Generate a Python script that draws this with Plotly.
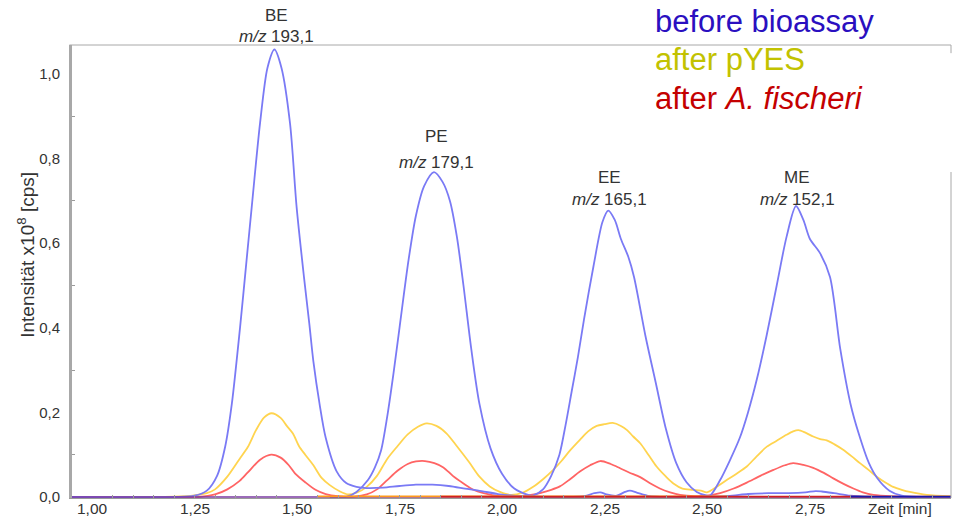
import plotly.graph_objects as go

# ---- Chromatogram readings (time in min, intensity in 1e8 cps) ----

# before bioassay: one XIC per compound
be_t = [0.95, 1.20, 1.25, 1.28, 1.305, 1.325, 1.341, 1.361, 1.377, 1.39,
        1.41, 1.428, 1.445, 1.462, 1.483, 1.499, 1.517, 1.53, 1.54, 1.555,
        1.57, 1.597, 1.62, 1.645, 1.67, 1.71, 1.75, 1.79, 1.83, 1.87,
        1.91, 1.95, 1.99, 2.04, 2.10]
be_v = [0, 0, 0.003, 0.015, 0.05, 0.12, 0.22, 0.40, 0.56, 0.69,
        0.885, 1.015, 1.058, 1.015, 0.883, 0.686, 0.52, 0.41, 0.32, 0.22,
        0.14, 0.06, 0.033, 0.024, 0.021, 0.022, 0.026, 0.029, 0.029, 0.026,
        0.02, 0.014, 0.007, 0.002, 0]

pe_t = [1.58, 1.62, 1.645, 1.673, 1.69, 1.705, 1.72, 1.735, 1.75, 1.772,
        1.79, 1.81, 1.834, 1.855, 1.873, 1.89, 1.906, 1.925, 1.945, 1.972,
        2.0, 2.03, 2.068, 2.10]
pe_v = [0, 0, 0.012, 0.04, 0.07, 0.11, 0.19, 0.29, 0.40, 0.56,
        0.665, 0.735, 0.768, 0.745, 0.70, 0.615, 0.50, 0.35, 0.22, 0.115,
        0.055, 0.02, 0.004, 0]

ee_t = [2.04, 2.075, 2.10, 2.12, 2.14, 2.155, 2.17, 2.185, 2.20, 2.223,
        2.245, 2.259, 2.275, 2.29, 2.308, 2.322, 2.35, 2.375, 2.40, 2.425,
        2.45, 2.475, 2.50, 2.53]
ee_v = [0, 0.003, 0.018, 0.05, 0.10, 0.17, 0.25, 0.33, 0.42, 0.545,
        0.65, 0.677, 0.655, 0.61, 0.568, 0.52, 0.38, 0.27, 0.16, 0.08,
        0.035, 0.012, 0.003, 0]

me_t = [2.48, 2.507, 2.532, 2.555, 2.58, 2.60, 2.622, 2.645, 2.67, 2.694,
        2.717, 2.735, 2.751, 2.776, 2.80, 2.825, 2.85, 2.87, 2.895, 2.915,
        2.945, 2.975, 3.01]
me_v = [0, 0.003, 0.04, 0.085, 0.14, 0.20, 0.28, 0.38, 0.50, 0.615,
        0.688, 0.655, 0.61, 0.576, 0.52, 0.35, 0.22, 0.15, 0.08, 0.045,
        0.015, 0.003, 0]

minor_t = [2.10, 2.20, 2.225, 2.24, 2.255, 2.28, 2.30, 2.312, 2.33, 2.36,
           2.45, 2.55, 2.60, 2.65, 2.70, 2.74, 2.765, 2.78, 2.81, 2.85,
           2.90]
minor_v = [0, 0.002, 0.009, 0.011, 0.006, 0.003, 0.012, 0.015, 0.01, 0.002,
           0, 0.002, 0.007, 0.009, 0.009, 0.011, 0.014, 0.013, 0.009, 0.003,
           0]

# after pYES
pyes_t = [0.95, 1.20, 1.25, 1.28, 1.30, 1.33, 1.36, 1.38, 1.40, 1.42,
          1.438, 1.46, 1.475, 1.49, 1.505, 1.52, 1.54, 1.56, 1.58, 1.605,
          1.625, 1.645, 1.67, 1.695, 1.72, 1.745, 1.77, 1.795, 1.816, 1.84,
          1.865, 1.89, 1.92, 1.945, 1.97, 1.995, 2.02, 2.05, 2.076, 2.10,
          2.125, 2.145, 2.166, 2.19, 2.21, 2.231, 2.25, 2.27, 2.29, 2.305,
          2.32, 2.337, 2.357, 2.377, 2.40, 2.418, 2.44, 2.465, 2.485, 2.50,
          2.525, 2.548, 2.572, 2.597, 2.62, 2.646, 2.67, 2.694, 2.71, 2.723,
          2.74, 2.759, 2.776, 2.792, 2.81, 2.833, 2.853, 2.873, 2.894, 2.914,
          2.934, 2.954, 2.975, 2.995, 3.036, 3.095]
pyes_v = [0, 0.001, 0.004, 0.009, 0.018, 0.048, 0.09, 0.118, 0.158, 0.188,
          0.198, 0.187, 0.168, 0.15, 0.12, 0.10, 0.075, 0.045, 0.028, 0.013,
          0.006, 0.01, 0.024, 0.05, 0.09, 0.12, 0.148, 0.166, 0.174, 0.168,
          0.15, 0.12, 0.082, 0.048, 0.025, 0.012, 0.005, 0.01, 0.024, 0.042,
          0.064, 0.085, 0.11, 0.135, 0.155, 0.168, 0.172, 0.175, 0.168, 0.158,
          0.143, 0.127, 0.10, 0.072, 0.048, 0.032, 0.02, 0.017, 0.015, 0.011,
          0.025, 0.04, 0.055, 0.072, 0.095, 0.119, 0.133, 0.147, 0.155, 0.158,
          0.152, 0.143, 0.137, 0.134, 0.125, 0.111, 0.096, 0.08, 0.064, 0.048,
          0.035, 0.024, 0.017, 0.012, 0.005, 0.002]

# after A. fischeri
fisch_t = [0.95, 1.26, 1.30, 1.33, 1.36, 1.38, 1.41, 1.437, 1.46, 1.48,
           1.495, 1.52, 1.545, 1.57, 1.60, 1.64, 1.67, 1.695, 1.72, 1.745,
           1.77, 1.79, 1.812, 1.835, 1.857, 1.88, 1.906, 1.93, 1.955, 1.995,
           2.04, 2.07, 2.095, 2.12, 2.141, 2.166, 2.19, 2.215, 2.24, 2.265,
           2.288, 2.31, 2.337, 2.36, 2.385, 2.41, 2.434, 2.47, 2.50, 2.532,
           2.565, 2.597, 2.63, 2.662, 2.69, 2.71, 2.735, 2.759, 2.785, 2.808,
           2.833, 2.857, 2.88, 2.906, 2.95, 3.095]
fisch_v = [0, 0, 0.006, 0.018, 0.038, 0.058, 0.088, 0.10, 0.093, 0.075,
           0.056, 0.035, 0.017, 0.007, 0.002, 0.001, 0.006, 0.018, 0.04, 0.062,
           0.078, 0.084, 0.085, 0.08, 0.07, 0.05, 0.032, 0.017, 0.009, 0.002,
           0.002, 0.005, 0.01, 0.017, 0.025, 0.042, 0.06, 0.075, 0.085, 0.078,
           0.068, 0.058, 0.047, 0.033, 0.02, 0.011, 0.005, 0.002, 0.003, 0.009,
           0.02, 0.034, 0.05, 0.064, 0.075, 0.08, 0.076, 0.069, 0.057, 0.044,
           0.031, 0.02, 0.011, 0.005, 0.002, 0.001]

# baseline traces of the remaining channels
base_segments = [
    ("#7a3aa0", [0.95, 3.095], [0.0, 0.0]),
    ("#ff9a1a", [1.55, 2.55], [0.0015, 0.0015]),
    ("#d02020", [1.85, 2.90], [0.0008, 0.0008]),
    ("#1a1aa8", [2.85, 3.095], [0.0008, 0.0008]),
]

# compound labels: name, m/z, time position, paper heights of the two lines
peak_labels = [("BE", "193,1", 1.451, 1.0662, 1.0177),
               ("PE", "179,1", 1.839, 0.7970, 0.7417),
               ("EE", "165,1", 2.263, 0.7086, 0.6600),
               ("ME", "152,1", 2.720, 0.7086, 0.6600)]

x_tickvals = [1.00, 1.25, 1.50, 1.75, 2.00, 2.25, 2.50, 2.75]
x_ticktext = ["1,00", "1,25", "1,50", "1,75", "2,00", "2,25", "2,50", "2,75"]
y_tickvals = [0.0, 0.2, 0.4, 0.6, 0.8, 1.0]
y_ticktext = ["0,0", "0,2", "0,4", "0,6", "0,8", "1,0"]

BLUE = "#7a7af5"
YELLOW = "#ffd44f"
RED = "#ff6464"
TEXT = "#333333"
FONT = "Liberation Sans, Arial, sans-serif"

fig = go.Figure()

def add_line(x, y, color, width=1.8, shape="spline"):
    fig.add_trace(go.Scatter(x=x, y=y, mode="lines", showlegend=False,
                             hoverinfo="skip",
                             line=dict(color=color, width=width, shape=shape,
                                       smoothing=0.8)))

add_line(pyes_t, pyes_v, YELLOW)
add_line(fisch_t, fisch_v, RED)
for tt, vv in [(be_t, be_v), (pe_t, pe_v), (ee_t, ee_v), (me_t, me_v),
               (minor_t, minor_v)]:
    add_line(tt, vv, BLUE)
for col, tt, vv in base_segments:
    add_line(tt, vv, col, width=1.6, shape="linear")

ann = []
for name, mz, xpos, y1, y2 in peak_labels:
    ann.append(dict(x=xpos, y=y1, xref="x", yref="paper", text=name,
                    yanchor="middle", showarrow=False,
                    font=dict(size=17, color=TEXT, family=FONT)))
    ann.append(dict(x=xpos, y=y2, xref="x", yref="paper",
                    text="<i>m/z</i> " + mz, yanchor="middle", showarrow=False,
                    font=dict(size=17, color=TEXT, family=FONT)))

# time axis labels sit tight under the axis line
for tv, tt in zip(x_tickvals, x_ticktext):
    ann.append(dict(x=tv, y=-0.0221, xref="x", yref="paper", text=tt,
                    xanchor="center", yanchor="middle", showarrow=False,
                    font=dict(size=15.5, color=TEXT, family=FONT)))

legend_items = [("before bioassay", "#2a0fc0", 1.0508),
                ("after pYES", "#c2c200", 0.9669),
                ("after <i>A. fischeri</i>", "#c40000", 0.8830)]
for txt, col, yp in legend_items:
    ann.append(dict(x=0.661, y=yp, xref="paper", yref="paper", text=txt,
                    xanchor="left", yanchor="middle", showarrow=False,
                    font=dict(size=31, color=col, family=FONT)))

ann.append(dict(x=-0.0523, y=0.537, xref="paper", yref="paper",
                text="Intensität x10<sup>8</sup> [cps]", textangle=-90,
                xanchor="center", yanchor="middle",
                showarrow=False, font=dict(size=19, color=TEXT, family=FONT)))
ann.append(dict(x=0.942, y=-0.0221, xref="paper", yref="paper",
                text="Zeit [min]", xanchor="center", yanchor="middle",
                showarrow=False, font=dict(size=15.5, color=TEXT, family=FONT)))

shapes = [
    dict(type="line", xref="paper", yref="paper", x0=-0.003, x1=1.0, y0=1.0, y1=1.0,
         line=dict(color="#a8a8a8", width=1)),
    dict(type="line", xref="paper", yref="paper", x0=1.0, x1=1.0, y0=0.982, y1=1.0,
         line=dict(color="#a8a8a8", width=1)),
    dict(type="line", xref="paper", yref="paper", x0=1.0, x1=1.0, y0=0.0, y1=0.7196,
         line=dict(color="#a8a8a8", width=1)),
]

fig.update_layout(
    width=961, height=517,
    margin=dict(l=72, r=10, t=45, b=19, autoexpand=False),
    paper_bgcolor="white", plot_bgcolor="white",
    annotations=ann, shapes=shapes,
    xaxis=dict(range=[0.9512, 3.0951], showticklabels=False,
               showgrid=False, zeroline=False, automargin=False,
               showline=True, linecolor="#9a9a9a", linewidth=1, ticks="",
               minor=dict(tickmode="linear", tick0=1.0, dtick=0.05, ticks="inside",
                          ticklen=3, tickcolor="#9a9a9a", showgrid=False)),
    yaxis=dict(range=[-0.0024, 1.0686], tickmode="array", tickvals=y_tickvals,
               ticktext=y_ticktext, showgrid=False, zeroline=False,
               automargin=False,
               showline=True, linecolor="#a8a8a8", linewidth=3, ticks="",
               ticklabelstandoff=6,
               tickfont=dict(size=15, color=TEXT, family=FONT),
               minor=dict(tickmode="linear", tick0=0.1, dtick=0.2, ticks="inside",
                          ticklen=3, tickcolor="#9a9a9a", showgrid=False)),
)

fig.write_html("out.html")
